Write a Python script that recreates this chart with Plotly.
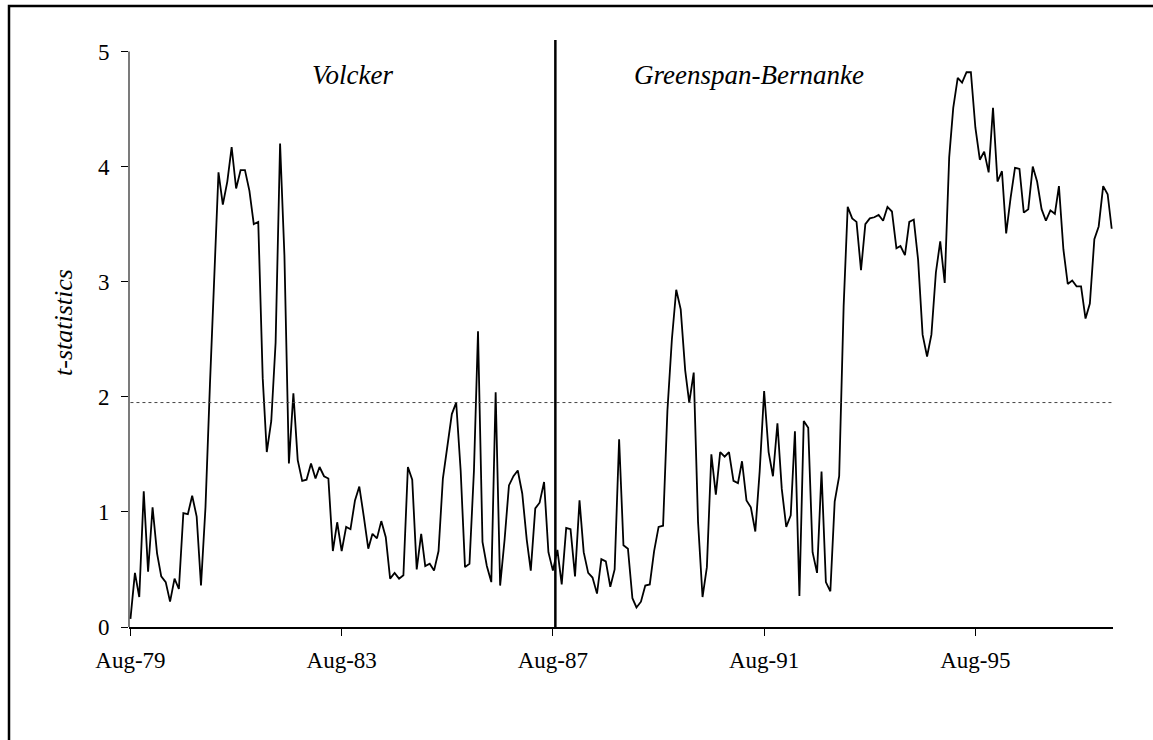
import plotly.graph_objects as go
import pandas as pd

# ---- data ----
start_month = "1979-08-01"
t_stat = [
    0.07, 0.47, 0.26, 1.18, 0.48, 1.04, 0.64, 0.44, 0.39, 0.22,
    0.42, 0.33, 0.99, 0.98, 1.14, 0.96, 0.36, 1.04, 2.11, 3.00,
    3.95, 3.67, 3.87, 4.17, 3.81, 3.97, 3.97, 3.79, 3.50, 3.52,
    2.16, 1.52, 1.79, 2.47, 4.20, 3.23, 1.42, 2.03, 1.45, 1.27,
    1.28, 1.42, 1.29, 1.39, 1.31, 1.29, 0.66, 0.91, 0.66, 0.87,
    0.85, 1.10, 1.22, 0.96, 0.68, 0.81, 0.77, 0.92, 0.78, 0.42,
    0.47, 0.42, 0.45, 1.39, 1.28, 0.50, 0.81, 0.53, 0.55, 0.49,
    0.66, 1.29, 1.59, 1.85, 1.95, 1.36, 0.52, 0.55, 1.36, 2.57,
    0.74, 0.53, 0.39, 2.04, 0.36, 0.76, 1.23, 1.31, 1.36, 1.16,
    0.76, 0.49, 1.03, 1.08, 1.26, 0.65, 0.49, 0.67, 0.37, 0.86,
    0.85, 0.44, 1.10, 0.65, 0.47, 0.43, 0.29, 0.59, 0.57, 0.35,
    0.50, 1.63, 0.71, 0.68, 0.25, 0.17, 0.22, 0.36, 0.37, 0.66,
    0.87, 0.88, 1.88, 2.50, 2.93, 2.76, 2.23, 1.95, 2.21, 0.91,
    0.26, 0.52, 1.50, 1.15, 1.52, 1.48, 1.52, 1.27, 1.25, 1.44,
    1.10, 1.04, 0.83, 1.35, 2.05, 1.52, 1.31, 1.77, 1.20, 0.87,
    0.97, 1.70, 0.27, 1.79, 1.73, 0.65, 0.47, 1.35, 0.39, 0.31,
    1.09, 1.31, 2.79, 3.65, 3.55, 3.52, 3.10, 3.50, 3.55, 3.56,
    3.58, 3.53, 3.65, 3.61, 3.29, 3.31, 3.23, 3.52, 3.54, 3.19,
    2.54, 2.35, 2.54, 3.08, 3.35, 2.99, 4.08, 4.51, 4.77, 4.73,
    4.82, 4.82, 4.34, 4.06, 4.13, 3.95, 4.51, 3.87, 3.96, 3.42,
    3.73, 3.99, 3.98, 3.60, 3.63, 4.00, 3.87, 3.63, 3.53, 3.62,
    3.59, 3.83, 3.28, 2.98, 3.01, 2.96, 2.96, 2.68, 2.81, 3.37,
    3.48, 3.83, 3.76, 3.46,
]
critical_value = 1.95
regime_change = "1987-08-18"
tick_dates = ["1979-08-01", "1983-08-01", "1987-08-01", "1991-08-01", "1995-08-01"]
tick_labels = ["Aug-79", "Aug-83", "Aug-87", "Aug-91", "Aug-95"]
regime_labels = ["Volcker", "Greenspan-Bernanke"]
regime_label_x = ["1983-10-15", "1991-04-15"]

dates = pd.date_range(start_month, periods=len(t_stat), freq="MS")

FONT = "Liberation Serif"

fig = go.Figure()
fig.add_trace(go.Scatter(
    x=dates, y=t_stat, mode="lines",
    line=dict(color="black", width=1.8),
    showlegend=False, hoverinfo="skip",
))

W, H = 1153, 740
L, R, T, B = 129, 40, 40, 113
PW, PH = W - L - R, H - T - B

fig.update_layout(
    width=W, height=H,
    margin=dict(l=L, r=R, t=T, b=B),
    paper_bgcolor="white", plot_bgcolor="white",
    font=dict(family=FONT, color="black", size=23),
    xaxis=dict(
        type="date",
        range=["1979-07-22", "1998-03-10"],
        tickmode="array", tickvals=tick_dates, ticktext=tick_labels,
        ticks="outside", ticklen=7, tickwidth=1.2, tickcolor="black",
        showline=True, linecolor="black", linewidth=2,
        showgrid=False, zeroline=False,
        ticklabelstandoff=4,
        tickfont=dict(family=FONT, size=23, color="black"),
    ),
    yaxis=dict(
        range=[0, 5.1], tickmode="linear", tick0=0, dtick=1,
        ticks="outside", ticklen=7, tickwidth=1.2, tickcolor="black",
        showline=False, showgrid=False, zeroline=False,
        ticklabelstandoff=7,
        tickfont=dict(family=FONT, size=23, color="black"),
    ),
)

shapes = [
    # y axis line up to 5
    dict(type="line", xref="paper", yref="y", x0=0, x1=0, y0=0, y1=5,
         line=dict(color="#333", width=1.3)),
    # critical value dotted line
    dict(type="line", xref="x", yref="y", x0=dates[0], x1=dates[-1],
         y0=critical_value, y1=critical_value,
         line=dict(color="#444", width=1, dash="dot")),
    # regime change
    dict(type="line", xref="x", yref="y", x0=regime_change, x1=regime_change,
         y0=0, y1=5.1, line=dict(color="black", width=2.5)),
    # outer frame
    dict(type="rect", xref="paper", yref="paper",
         x0=(9 - L) / PW, x1=1.3,
         y0=-0.5, y1=(H - B - 6) / PH,
         line=dict(color="black", width=2.5), fillcolor="rgba(0,0,0,0)",
         layer="above"),
]
fig.update_layout(shapes=shapes)

annotations = [
    dict(text=f"<i>{regime_labels[0]}</i>", x=regime_label_x[0], y=4.8,
         xref="x", yref="y", showarrow=False,
         font=dict(family=FONT, size=27, color="black")),
    dict(text=f"<i>{regime_labels[1]}</i>", x=regime_label_x[1], y=4.8,
         xref="x", yref="y", showarrow=False,
         font=dict(family=FONT, size=27, color="black")),
    dict(text="<i>t-statistics</i>", x=(63 - L) / PW, y=(H - B - 323) / PH,
         xref="paper", yref="paper", showarrow=False, textangle=-90,
         xanchor="center", yanchor="middle",
         font=dict(family=FONT, size=26, color="black")),
]
fig.update_layout(annotations=annotations)

fig.write_html("out.html", config={"displayModeBar": False},
               post_script="document.body.style.margin='0';")
